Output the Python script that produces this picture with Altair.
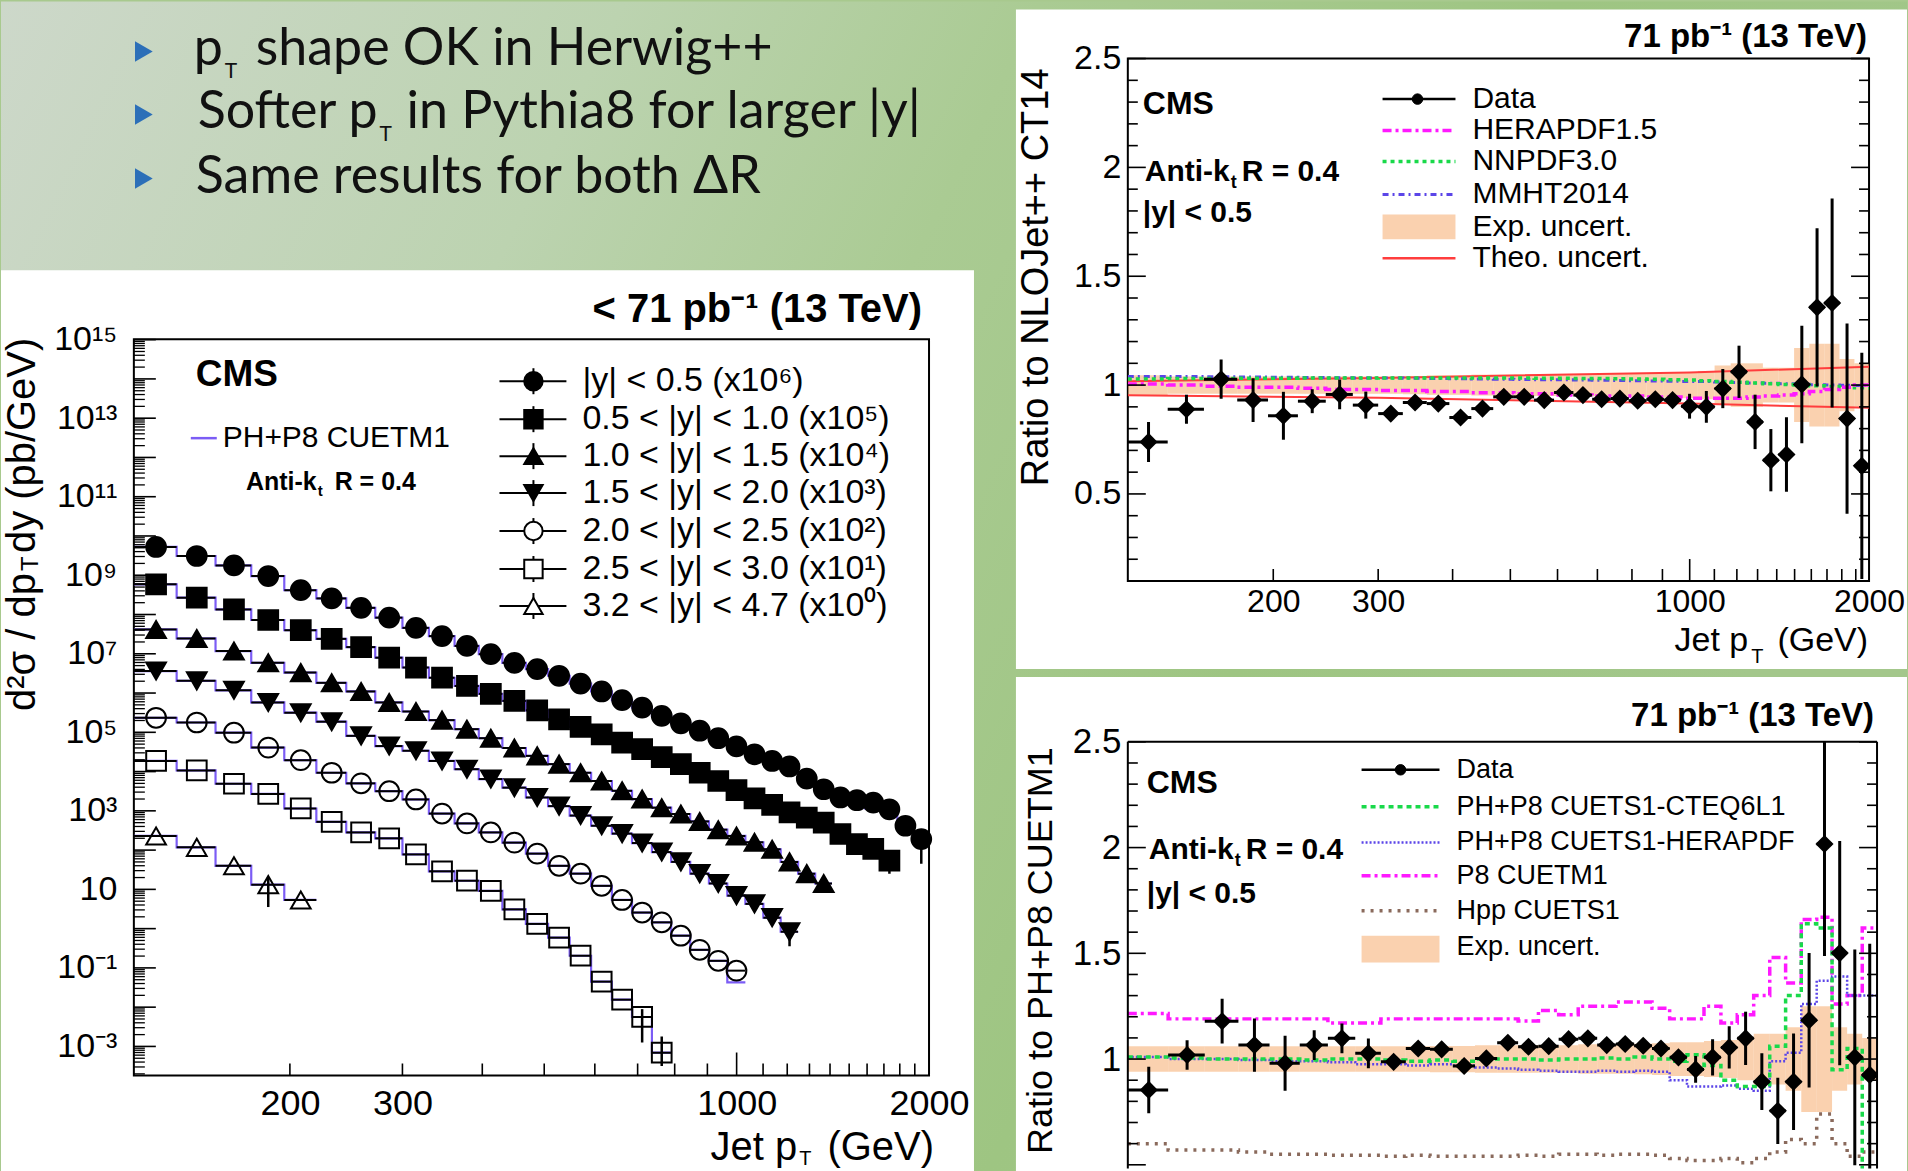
import altair as alt
import pandas as pd

FONT = "Liberation Sans, Arial, Helvetica, sans-serif"
SLIDE_FONT = "Lato, Open Sans, sans-serif"
PURPLE = "#7b5cf5"
ORANGE = "#f7b27a"
RED = "#ff3d3d"
MAGENTA = "#ff19ff"
GREEN = "#19d94a"
BLUE = "#5b45e8"
BROWN = "#8a6a5c"
BULLET_BLUE = "#2c6fb8"

ONE = pd.DataFrame({"k": [0]})

# ---------------- common pT binning (GeV) ----------------
edges = [114, 133, 153, 174, 196, 220, 245, 272, 300, 330, 362, 395, 430, 468, 507,
         548, 592, 638, 686, 737, 790, 846, 905, 967, 1032, 1101, 1172, 1248, 1327,
         1410, 1497, 1588, 1684, 1784, 1890, 2000]

# ---------------- left panel: spectra (log10 of scaled cross sections) ----------------
spec_names = ["y0", "y1", "y2", "y3", "y4", "y5", "y6"]
spec_labels = ["|y| < 0.5 (x10⁶)", "0.5 < |y| < 1.0 (x10⁵)", "1.0 < |y| < 1.5 (x10⁴)",
               "1.5 < |y| < 2.0 (x10³)", "2.0 < |y| < 2.5 (x10²)", "2.5 < |y| < 3.0 (x10¹)",
               "3.2 < |y| < 4.7 (x10⁰)"]
spec_shapes = ["circle", "square", "triangle-up", "triangle-down", "circle", "square", "triangle-up"]
spec_fills = ["black", "black", "black", "black", "transparent", "transparent", "transparent"]
spec_logs = [
    [9.72, 9.49, 9.25, 8.98, 8.62, 8.41, 8.17, 7.92, 7.66, 7.45, 7.20, 6.99, 6.77, 6.61, 6.44,
     6.24, 6.04, 5.82, 5.63, 5.42, 5.23, 5.04, 4.85, 4.64, 4.44, 4.27, 4.13, 3.82, 3.55, 3.34,
     3.27, 3.21, 3.04, 2.62, 2.28],
    [8.77, 8.43, 8.13, 7.86, 7.60, 7.38, 7.17, 6.90, 6.65, 6.39, 6.18, 5.98, 5.80, 5.56, 5.33,
     5.14, 4.95, 4.74, 4.57, 4.37, 4.19, 3.97, 3.76, 3.53, 3.32, 3.15, 2.96, 2.83, 2.70, 2.41,
     2.15, 2.03, 1.73],
    [7.62, 7.39, 7.07, 6.77, 6.52, 6.26, 6.04, 5.76, 5.53, 5.31, 5.08, 4.85, 4.60, 4.40, 4.19,
     3.97, 3.76, 3.51, 3.30, 3.08, 2.92, 2.73, 2.52, 2.36, 2.20, 2.02, 1.70, 1.40, 1.15],
    [6.56, 6.31, 6.07, 5.76, 5.50, 5.27, 4.91, 4.65, 4.53, 4.27, 4.06, 3.81, 3.59, 3.34, 3.12,
     2.88, 2.62, 2.42, 2.18, 1.95, 1.70, 1.40, 1.15, 0.84, 0.63, 0.28, -0.08],
    [5.37, 5.25, 4.99, 4.61, 4.29, 3.97, 3.70, 3.50, 3.29, 2.93, 2.68, 2.45, 2.19, 1.91, 1.60,
     1.40, 1.09, 0.73, 0.41, 0.16, -0.18, -0.54, -0.82, -1.07],
    [4.27, 4.03, 3.69, 3.43, 3.06, 2.72, 2.45, 2.30, 1.89, 1.46, 1.22, 0.96, 0.49, 0.12, -0.23,
     -0.69, -1.35, -1.81, -2.25, -3.16],
    [2.36, 2.07, 1.60, 1.12, 0.73],
]
# visible vertical error bars: (series, bin number, log10 low, log10 high)
spec_err = [("y0", 35, 1.65, 2.45), ("y1", 33, 1.40, 1.85), ("y3", 27, -0.45, 0.10),
            ("y5", 19, -2.90, -2.05), ("y5", 20, -3.50, -2.75), ("y6", 4, 0.55, 1.30)]
# PH+P8 CUETM1 histogram: where it departs visibly from the data (log10 offset)
mc_dev = {("y0", 31): -0.12, ("y0", 32): -0.15, ("y4", 24): -0.30}

# ---------------- top-right: ratio to NLOJet++ CT14 ----------------
r_data = [0.739, 0.889, 1.027, 0.931, 0.859, 0.926, 0.957, 0.908,
          0.869, 0.920, 0.915, 0.851, 0.892, 0.946, 0.946, 0.931,
          0.966, 0.954, 0.935, 0.938, 0.928, 0.935, 0.931, 0.903,
          0.900, 0.984, 1.061, 0.831, 0.655, 0.681, 1.003, 1.357,
          1.377, 0.846, 0.629]
r_err = [0.092, 0.067, 0.090, 0.100, 0.110, 0.055, 0.068, 0.062,
         0.020, 0.025, 0.025, 0.020, 0.020, 0.020, 0.020, 0.020,
         0.020, 0.020, 0.020, 0.020, 0.020, 0.025, 0.025, 0.057,
         0.073, 0.090, 0.120, 0.125, 0.143, 0.171, 0.270, 0.364,
         0.480, 0.437, 0.520]
r_exp = [0.045, 0.040, 0.040, 0.040, 0.040, 0.040, 0.040, 0.040,
         0.040, 0.042, 0.045, 0.045, 0.048, 0.048, 0.050, 0.050,
         0.050, 0.050, 0.052, 0.052, 0.055, 0.055, 0.058, 0.060,
         0.065, 0.090, 0.100, 0.100, 0.080, 0.080, 0.170, 0.190,
         0.190, 0.120, 0.100]
r_hera = [1.005, 1.000, 0.995, 0.990, 0.990, 0.985, 0.980, 0.980,
          0.975, 0.975, 0.970, 0.970, 0.965, 0.965, 0.960, 0.960,
          0.955, 0.955, 0.950, 0.950, 0.950, 0.945, 0.945, 0.940,
          0.940, 0.940, 0.940, 0.945, 0.950, 0.955, 0.960, 0.970,
          0.980, 0.990, 1.000]
r_nnpdf = [1.028, 1.030, 1.030, 1.031, 1.031, 1.032, 1.032, 1.032,
           1.033, 1.033, 1.033, 1.033, 1.032, 1.032, 1.032, 1.031,
           1.031, 1.030, 1.030, 1.029, 1.028, 1.027, 1.025, 1.023,
           1.020, 1.017, 1.013, 1.010, 1.006, 1.003, 1.000, 0.997,
           0.994, 0.991, 0.988]
r_mmht = [1.040, 1.039, 1.038, 1.037, 1.036, 1.035, 1.034, 1.033,
          1.032, 1.031, 1.030, 1.029, 1.028, 1.027, 1.026, 1.025,
          1.024, 1.023, 1.022, 1.021, 1.020, 1.019, 1.018, 1.017,
          1.016, 1.014, 1.012, 1.010, 1.008, 1.006, 1.004, 1.002,
          1.000, 0.999, 0.998]
theo_pt = [114, 300, 1000, 2000]
theo_up = [1.018, 1.033, 1.058, 1.084]
theo_dn = [0.953, 0.942, 0.915, 0.896]

# ---------------- bottom-right: ratio to PH+P8 CUETM1 ----------------
b_data = [0.854, 1.019, 1.179, 1.066, 0.980, 1.066, 1.098, 1.027,
          0.987, 1.050, 1.046, 0.967, 1.003, 1.077, 1.058, 1.061,
          1.094, 1.098, 1.066, 1.071, 1.063, 1.050, 1.008, 0.951,
          1.008, 1.055, 1.098, 0.893, 0.755, 0.893, 1.184, 2.017,
          1.501, 1.008, 0.925]
b_err = [0.110, 0.070, 0.106, 0.126, 0.130, 0.070, 0.070, 0.070,
         0.020, 0.030, 0.030, 0.030, 0.025, 0.020, 0.020, 0.020,
         0.020, 0.020, 0.020, 0.020, 0.020, 0.020, 0.030, 0.063,
         0.086, 0.100, 0.126, 0.134, 0.157, 0.228, 0.318, 0.530,
         0.530, 0.510, 0.620]
b_exp = [0.060, 0.060, 0.060, 0.060, 0.060, 0.060, 0.060, 0.060,
         0.060, 0.060, 0.062, 0.062, 0.065, 0.065, 0.065, 0.065,
         0.065, 0.070, 0.070, 0.070, 0.072, 0.075, 0.080, 0.080,
         0.085, 0.090, 0.100, 0.120, 0.120, 0.150, 0.250, 0.250,
         0.150, 0.120, 0.100]
b_p8 = [1.215, 1.19, 1.19, 1.19, 1.19, 1.19, 1.17, 1.17,
        1.19, 1.19, 1.19, 1.19, 1.19, 1.19, 1.18, 1.23,
        1.21, 1.25, 1.25, 1.27, 1.27, 1.24, 1.19, 1.19,
        1.25, 1.17, 1.21, 1.30, 1.48, 1.36, 1.66, 1.67,
        1.26, 1.30, 1.62]
b_cteq = [1.01, 1.005, 1.0, 1.0, 1.0, 0.995, 1.0, 1.0,
          0.995, 0.99, 0.995, 0.99, 1.0, 1.0, 1.0, 0.995,
          1.0, 1.0, 1.005, 1.0, 1.01, 1.0, 0.99, 1.02,
          0.97, 0.90, 0.87, 0.87, 1.06, 1.30, 1.64, 1.62,
          0.95, 1.05, 0.40]
b_hera = [1.01, 1.0, 1.0, 0.995, 0.99, 0.99, 0.985, 0.975,
          0.975, 0.97, 0.975, 0.97, 0.96, 0.955, 0.95, 0.945,
          0.94, 0.94, 0.945, 0.94, 0.945, 0.94, 0.90, 0.87,
          0.87, 0.875, 0.86, 0.85, 0.99, 1.03, 1.26, 1.37,
          1.39, 1.30, 1.30]
b_hpp = [0.60, 0.57, 0.57, 0.56, 0.55, 0.55, 0.545, 0.545,
         0.54, 0.545, 0.54, 0.54, 0.54, 0.54, 0.545, 0.54,
         0.55, 0.55, 0.545, 0.55, 0.55, 0.545, 0.53, 0.52,
         0.52, 0.53, 0.51, 0.53, 0.56, 0.62, 0.60, 0.74,
         0.60, 0.54, 0.56]

# ================= helpers (annotations only) =================
def TXT(s, x, y, size, bold=False, align="left", baseline="alphabetic", angle=0,
        color="black", font=FONT):
    kw = dict(text=s, align=align, baseline=baseline, fontSize=size, font=font, color=color)
    if bold:
        kw["fontWeight"] = "bold"
    if angle:
        kw["angle"] = angle
    return alt.Chart(ONE).mark_text(**kw).encode(x=alt.value(x), y=alt.value(y))


def HR(x1, x2, y, color="black", width=2, dash=None):
    kw = dict(color=color, strokeWidth=width)
    if dash:
        kw["strokeDash"] = dash
    return alt.Chart(ONE).mark_rule(**kw).encode(x=alt.value(x1), x2=alt.value(x2), y=alt.value(y))


def VR(x, y1, y2, color="black", width=2):
    return alt.Chart(ONE).mark_rule(color=color, strokeWidth=width).encode(
        x=alt.value(x), y=alt.value(y1), y2=alt.value(y2))


def BOX(x1, x2, y1, y2, fill, opacity=1.0):
    return alt.Chart(ONE).mark_rect(fill=fill, opacity=opacity).encode(
        x=alt.value(x1), x2=alt.value(x2), y=alt.value(y1), y2=alt.value(y2))


def PT(x, y, shape, size, fill, stroke="black", sw=2):
    return alt.Chart(ONE).mark_point(shape=shape, size=size, filled=True, fill=fill, stroke=stroke,
                                     strokeWidth=sw, opacity=1).encode(x=alt.value(x), y=alt.value(y))


def step_df(vals):
    return pd.DataFrame({"x": edges[:len(vals) + 1], "v": list(vals) + [vals[-1]]})


def axis_common(**kw):
    base = dict(ticks=False, tickSize=0, domain=False, grid=False, title=None,
                labelFont=FONT, labelColor="black", labelOverlap=False)
    base.update(kw)
    return alt.Axis(**base)


x_scale = alt.Scale(type="log", domain=[114, 2000], nice=False)
x_minor = [v for v in range(200, 2000, 100) if v != 1000]
x_major = [1000]

# ================= cell A : slide background + bullet text =================
AW, AH = 796, 200
grad = alt.LinearGradient(gradient="linear", x1=0, x2=1, y1=0, y2=0.3, stops=[
    alt.GradientStop(color="#cdd8ca", offset=0.0),
    alt.GradientStop(color="#bcd3b0", offset=0.3),
    alt.GradientStop(color="#aacb93", offset=0.5),
    alt.GradientStop(color="#9ec582", offset=0.75),
    alt.GradientStop(color="#a3c78b", offset=1.0)])
a_layers = [
    alt.Chart(ONE).mark_rect(fill=grad).encode(x=alt.value(-133), x2=alt.value(1775),
                                               y=alt.value(-57), y2=alt.value(1114)),
    BOX(-133, 841, 212, 1114, "white"),
    BOX(883, 1775, -49, 611, "white"),
    BOX(883, 1775, 619, 1114, "white"),
]
for yy in [-7, 56, 120]:
    a_layers.append(alt.Chart(ONE).mark_point(shape="triangle-right", size=420, filled=True,
                                              color=BULLET_BLUE, opacity=1).encode(
        x=alt.value(10), y=alt.value(yy)))
a_layers += [
    TXT("p", 89, 6, 52, align="right", font=SLIDE_FONT, color="#111"),
    TXT("T", 91, 19, 21, font=SLIDE_FONT, color="#111"),
    TXT("shape OK in Herwig++", 122, 6, 52, font=SLIDE_FONT, color="#111"),
    TXT("Softer p", 244, 70, 52, align="right", font=SLIDE_FONT, color="#111"),
    TXT("T", 246, 83, 21, font=SLIDE_FONT, color="#111"),
    TXT("in Pythia8 for larger |y|", 273, 70, 52, font=SLIDE_FONT, color="#111"),
    TXT("Same results for both ΔR", 62, 135, 52, font=SLIDE_FONT, color="#111"),
]
A = alt.layer(*a_layers).properties(width=AW, height=AH,
                                    view=alt.ViewBackground(stroke="transparent"))

# ================= cell B : spectra =================
BW, BH = 796, 737
ys_spec = alt.Scale(type="log", domain=[10 ** -3.74, 10 ** 15.01], nice=False)
exps = [-3, -1, 1, 3, 5, 7, 9, 11, 13, 15]
sup = {-3: "⁻³", -1: "⁻¹", 1: "", 3: "³", 5: "⁵", 7: "⁷", 9: "⁹", 11: "¹¹", 13: "¹³", 15: "¹⁵"}
lab_expr = " : ".join(f"round(log(datum.value)/LN10) == {e} ? '10{sup[e]}'" for e in exps) + " : ''"
ax_bx = axis_common(values=[200, 300, 1000, 2000], format="d", labelFontSize=36,
                    labelPadding=11, labelFlush=False)
ax_by = axis_common(values=[10.0 ** e for e in exps], labelExpr=lab_expr, labelFontSize=34,
                    labelPadding=17)

rows, mc_rows, err_rows = [], [], []
for name, logs in zip(spec_names, spec_logs):
    for i, lv in enumerate(logs):
        lo, hi = edges[i], edges[i + 1]
        rows.append(dict(series=name, lo=lo, hi=hi, pt=(lo + hi) / 2, val=10 ** lv))
    mc = [lv + mc_dev.get((name, i + 1), 0.0) for i, lv in enumerate(logs)]
    for i, lv in enumerate(mc):
        mc_rows.append(dict(series=name, x=edges[i], val=10 ** lv))
    mc_rows.append(dict(series=name, x=edges[len(mc)], val=10 ** mc[-1]))
for name, b, lo_l, hi_l in spec_err:
    err_rows.append(dict(series=name, pt=(edges[b - 1] + edges[b]) / 2, elo=10 ** lo_l, ehi=10 ** hi_l))
spec_df = pd.DataFrame(rows)
mc_df = pd.DataFrame(mc_rows)
err_df = pd.DataFrame(err_rows)

BX = lambda f: alt.X(f, type="quantitative", scale=x_scale, axis=ax_bx)
BY = lambda f: alt.Y(f, type="quantitative", scale=ys_spec, axis=ax_by)

y_major_spec = [10.0 ** e for e in range(-3, 16)]
y_minor_spec = [m * 10.0 ** e for e in range(-4, 15) for m in range(2, 10)
                if 10 ** -3.74 <= m * 10.0 ** e <= 10 ** 15.01]

b_layers = [
    alt.Chart(mc_df).mark_line(interpolate="step-after", color=PURPLE, strokeWidth=2.2, clip=True)
    .encode(x=BX("x"), y=BY("val"), detail="series:N"),
    alt.Chart(spec_df).mark_rule(color="black", strokeWidth=2, clip=True)
    .encode(x=BX("lo"), x2="hi:Q", y=BY("val")),
    alt.Chart(err_df).mark_rule(color="black", strokeWidth=2.5, clip=True)
    .encode(x=BX("pt"), y=BY("elo"), y2="ehi:Q"),
    alt.Chart(spec_df).mark_point(filled=True, size=390, opacity=1, stroke="black", strokeWidth=2)
    .encode(x=BX("pt"), y=BY("val"),
            shape=alt.Shape("series:N", scale=alt.Scale(domain=spec_names, range=spec_shapes), legend=None),
            fill=alt.Fill("series:N", scale=alt.Scale(domain=spec_names, range=spec_fills), legend=None)),
    alt.Chart(pd.DataFrame({"v": y_major_spec})).mark_rule(color="black", strokeWidth=1.6)
    .encode(y=BY("v"), x=alt.value(0), x2=alt.value(22)),
    alt.Chart(pd.DataFrame({"v": y_minor_spec})).mark_rule(color="black", strokeWidth=1.3)
    .encode(y=BY("v"), x=alt.value(0), x2=alt.value(11)),
    alt.Chart(pd.DataFrame({"v": x_minor})).mark_rule(color="black", strokeWidth=1.6)
    .encode(x=BX("v"), y=alt.value(BH - 12), y2=alt.value(BH)),
    alt.Chart(pd.DataFrame({"v": x_major})).mark_rule(color="black", strokeWidth=1.6)
    .encode(x=BX("v"), y=alt.value(BH - 23), y2=alt.value(BH)),
    # texts
    TXT("< 71 pb⁻¹ (13 TeV)", 789, -17, 40, bold=True, align="right"),
    TXT("CMS", 62, 47, 37, bold=True),
    HR(57, 83, 99, color=PURPLE, width=2.5),
    TXT("PH+P8 CUETM1", 89, 99, 30, baseline="middle"),
    TXT("Anti-k", 183, 151, 25, bold=True, align="right"),
    TXT("t", 184, 157, 15, bold=True),
    TXT("R = 0.4", 201, 151, 25, bold=True),
    TXT("d²σ / dp", -111, 234, 40, angle=270, align="right", baseline="middle"),
    TXT("T", -103, 232, 24, angle=270, align="left", baseline="middle"),
    TXT("dy (pb/GeV)", -111, 214, 40, angle=270, align="left", baseline="middle"),
    TXT("Jet p", 664, 822, 40, align="right"),
    TXT("T", 666, 827, 20),
    TXT("(GeV)", 801, 822, 40, align="right"),
]
leg_rows = [42, 80, 117, 154, 192, 230, 267]
for lab, shp, fil, yy in zip(spec_labels, spec_shapes, spec_fills, leg_rows):
    b_layers.append(HR(366, 433, yy, width=2))
    b_layers.append(VR(400, yy - 13, yy + 13, width=2))
    b_layers.append(PT(400, yy, shp, 340, "black" if fil == "black" else "white"))
    b_layers.append(TXT(lab, 449, yy, 34, baseline="middle"))
B = alt.layer(*b_layers).properties(width=BW, height=BH)

# ================= cell C : ratio to NLOJet++ CT14 =================
CW, CH = 742, 523
ys_c = alt.Scale(domain=[0.1, 2.5], nice=False, zero=False)
ax_cx = axis_common(values=[200, 300, 1000, 2000], format="d", labelFontSize=32,
                    labelPadding=6, labelFlush=False)
ax_cy = axis_common(values=[0.5, 1, 1.5, 2, 2.5], format="~g", labelFontSize=34, labelPadding=7)
CX = lambda f: alt.X(f, type="quantitative", scale=x_scale, axis=ax_cx)
CY = lambda f: alt.Y(f, type="quantitative", scale=ys_c, axis=ax_cy)

r_df = pd.DataFrame({
    "lo": edges[:-1], "hi": edges[1:],
    "pt": [(a + b) / 2 for a, b in zip(edges[:-1], edges[1:])],
    "v": r_data,
    "elo": [v - e for v, e in zip(r_data, r_err)], "ehi": [v + e for v, e in zip(r_data, r_err)],
    "blo": [1 - e for e in r_exp], "bhi": [1 + e for e in r_exp]})
theo_df = pd.DataFrame({"pt": theo_pt + theo_pt, "v": theo_up + theo_dn,
                        "which": ["up"] * len(theo_pt) + ["dn"] * len(theo_pt)})

y_major_r = [0.5, 1.0, 1.5, 2.0, 2.5]
y_minor_c = [round(0.1 * i, 1) for i in range(1, 25) if i % 5 != 0]
y_minor_d = [round(0.1 * i, 1) for i in range(5, 25) if i % 5 != 0]


def step_layer(vals, color, dash, width, X, Y):
    return alt.Chart(step_df(vals)).mark_line(interpolate="step-after", color=color, strokeDash=dash,
                                              strokeWidth=width, clip=True).encode(x=X("x"), y=Y("v"))


def yticks(W, minor, Y):
    out = []
    for vals, ln in [(y_major_r, 18), (minor, 10)]:
        d = pd.DataFrame({"v": vals})
        out.append(alt.Chart(d).mark_rule(color="black", strokeWidth=1.6)
                   .encode(y=Y("v"), x=alt.value(0), x2=alt.value(ln)))
        out.append(alt.Chart(d).mark_rule(color="black", strokeWidth=1.6)
                   .encode(y=Y("v"), x=alt.value(W - ln), x2=alt.value(W)))
    return out


c_layers = [
    alt.Chart(r_df).mark_rect(fill=ORANGE, opacity=0.6, clip=True)
    .encode(x=CX("lo"), x2="hi:Q", y=CY("blo"), y2="bhi:Q"),
    alt.Chart(theo_df).mark_line(color=RED, strokeWidth=2, clip=True)
    .encode(x=CX("pt"), y=CY("v"), detail="which:N"),
    step_layer(r_mmht, BLUE, [6, 4, 2, 4], 3, CX, CY),
    step_layer(r_nnpdf, GREEN, [4, 4], 3.5, CX, CY),
    step_layer(r_hera, MAGENTA, [9, 4, 3, 4], 3.5, CX, CY),
    alt.Chart(r_df).mark_rule(color="black", strokeWidth=3, clip=True)
    .encode(x=CX("lo"), x2="hi:Q", y=CY("v")),
    alt.Chart(r_df).mark_rule(color="black", strokeWidth=3, clip=True)
    .encode(x=CX("pt"), y=CY("elo"), y2="ehi:Q"),
    alt.Chart(r_df).mark_point(shape="diamond", filled=True, size=330, color="black", opacity=1, clip=True)
    .encode(x=CX("pt"), y=CY("v")),
    alt.Chart(pd.DataFrame({"v": x_minor})).mark_rule(color="black", strokeWidth=1.6)
    .encode(x=CX("v"), y=alt.value(CH - 12), y2=alt.value(CH)),
    alt.Chart(pd.DataFrame({"v": x_major})).mark_rule(color="black", strokeWidth=1.6)
    .encode(x=CX("v"), y=alt.value(CH - 22), y2=alt.value(CH)),
] + yticks(CW, y_minor_c, CY) + [
    TXT("71 pb⁻¹ (13 TeV)", 740, -12, 33, bold=True, align="right"),
    TXT("CMS", 15, 56, 32, bold=True),
    TXT("Anti-k", 102, 123, 30, bold=True, align="right"),
    TXT("t", 103, 130, 18, bold=True),
    TXT("R = 0.4", 114, 123, 30, bold=True),
    TXT("|y| < 0.5", 15, 164, 30, bold=True),
    TXT("Ratio to NLOJet++ CT14", -91, 219, 38, angle=270, align="center", baseline="middle"),
    TXT("Jet p", 621, 593, 34, align="right"),
    TXT("T", 624, 605, 20),
    TXT("(GeV)", 741, 593, 34, align="right"),
    HR(255, 328, 40.6, width=2.5), PT(290, 40.6, "circle", 110, "black", sw=1),
    HR(255, 328, 72, color=MAGENTA, width=3.5, dash=[9, 4, 3, 4]),
    HR(255, 328, 103, color=GREEN, width=3.5, dash=[4, 4]),
    HR(255, 328, 136, color=BLUE, width=3, dash=[6, 4, 2, 4]),
    BOX(255, 328, 156, 181, ORANGE, 0.6),
    HR(255, 328, 200, color=RED, width=2.5),
]
for lab, yy in zip(["Data", "HERAPDF1.5", "NNPDF3.0", "MMHT2014", "Exp. uncert.", "Theo. uncert."],
                   [40.6, 72, 103, 136, 168.5, 200]):
    c_layers.append(TXT(lab, 345, yy, 30, baseline="middle"))
C = alt.layer(*c_layers).properties(width=CW, height=CH)

# ================= cell D : ratio to PH+P8 CUETM1 =================
DW, DH = 750, 427
ys_d = alt.Scale(domain=[0.483, 2.5], nice=False, zero=False)
ax_dy = axis_common(values=[1, 1.5, 2, 2.5], format="~g", labelFontSize=35, labelPadding=7)
DX = lambda f: alt.X(f, type="quantitative", scale=x_scale, axis=None)
DY = lambda f: alt.Y(f, type="quantitative", scale=ys_d, axis=ax_dy)
b_df = pd.DataFrame({
    "lo": edges[:-1], "hi": edges[1:],
    "pt": [(a + b) / 2 for a, b in zip(edges[:-1], edges[1:])],
    "v": b_data,
    "elo": [v - e for v, e in zip(b_data, b_err)], "ehi": [v + e for v, e in zip(b_data, b_err)],
    "blo": [1 - e for e in b_exp], "bhi": [1 + e for e in b_exp]})
d_layers = [
    alt.Chart(b_df).mark_rect(fill=ORANGE, opacity=0.6, clip=True)
    .encode(x=DX("lo"), x2="hi:Q", y=DY("blo"), y2="bhi:Q"),
    step_layer(b_hpp, BROWN, [3, 6], 3.5, DX, DY),
    step_layer(b_p8, MAGENTA, [9, 4, 3, 4], 3.5, DX, DY),
    step_layer(b_hera, BLUE, [2, 2], 2.5, DX, DY),
    step_layer(b_cteq, GREEN, [5, 4], 3.5, DX, DY),
    alt.Chart(b_df).mark_rule(color="black", strokeWidth=3, clip=True)
    .encode(x=DX("lo"), x2="hi:Q", y=DY("v")),
    alt.Chart(b_df).mark_rule(color="black", strokeWidth=3, clip=True)
    .encode(x=DX("pt"), y=DY("elo"), y2="ehi:Q"),
    alt.Chart(b_df).mark_point(shape="diamond", filled=True, size=330, color="black", opacity=1, clip=True)
    .encode(x=DX("pt"), y=DY("v")),
] + yticks(DW, y_minor_d, DY) + [
    VR(0, 0, DH, width=2), VR(DW, 0, DH, width=2), HR(0, DW, 0, width=2),
    TXT("71 pb⁻¹ (13 TeV)", 747, -16, 33, bold=True, align="right"),
    TXT("CMS", 19, 51, 32, bold=True),
    TXT("Anti-k", 106, 117, 30, bold=True, align="right"),
    TXT("t", 107, 124, 18, bold=True),
    TXT("R = 0.4", 118, 117, 30, bold=True),
    TXT("|y| < 0.5", 19, 161, 30, bold=True),
    TXT("Ratio to PH+P8 CUETM1", -87, 209, 36, angle=270, align="center", baseline="middle"),
    HR(234, 312, 28, width=2.5), PT(273, 28, "circle", 110, "black", sw=1),
    HR(234, 312, 65, color=GREEN, width=3.5, dash=[5, 4]),
    HR(234, 312, 100.7, color=BLUE, width=2.5, dash=[2, 2]),
    HR(234, 312, 134, color=MAGENTA, width=3.5, dash=[9, 4, 3, 4]),
    HR(234, 312, 169, color=BROWN, width=3.5, dash=[3, 6]),
    BOX(234, 312, 194, 221, ORANGE, 0.6),
]
for lab, yy in zip(["Data", "PH+P8 CUETS1-CTEQ6L1", "PH+P8 CUETS1-HERAPDF", "P8 CUETM1",
                    "Hpp CUETS1", "Exp. uncert."], [28, 65, 100.7, 134, 169, 205.7]):
    d_layers.append(TXT(lab, 329, yy, 27, baseline="middle"))
D = alt.layer(*d_layers).properties(width=DW, height=DH,
                                    view=alt.ViewBackground(stroke="transparent"))

left = alt.vconcat(A, B, spacing=81, bounds="flush")
right = alt.vconcat(C, D, spacing=161, bounds="flush")
# with flush bounds the nested column counts as zero-width, so the spacing is the full offset
chart = (alt.hconcat(left, right, spacing=995, bounds="flush")
         .properties(padding=0, background="#a8c98e")
         .configure_view(stroke="black", strokeWidth=2))

chart.save("out.html", embed_options={"renderer": "svg", "actions": False})
